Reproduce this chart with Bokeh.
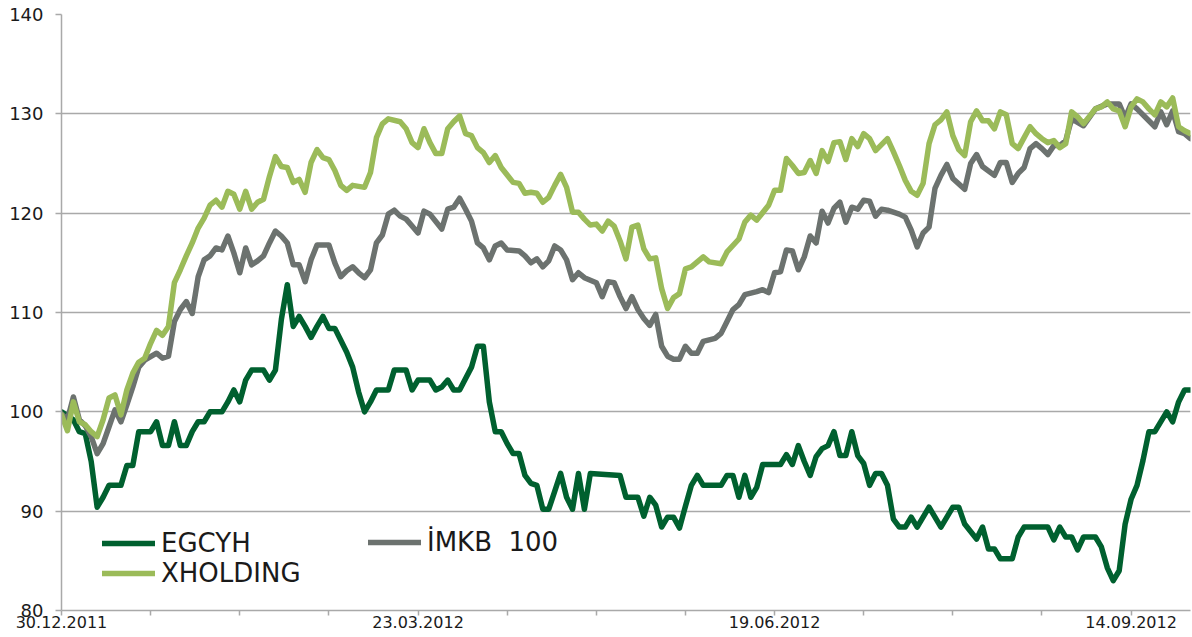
from bokeh.plotting import figure
from bokeh.models import Range1d, FixedTicker, Legend, LegendItem
from bokeh.embed import file_html
from bokeh.resources import INLINE

# ---- axis data ----
date_labels = ["30.12.2011", "23.03.2012", "19.06.2012", "14.09.2012"]
label_days = [0, 60, 120, 180]
tick_days = list(range(0, 181, 15))
y_ticks = [80, 90, 100, 110, 120, 130, 140]
series_names = ["EGCYH", "İMKB  100", "XHOLDING"]

# ---- EGCYH (trading-day index, value) ----
egcyh_day = [0, 2, 3, 4, 5, 6, 7, 8, 10, 11, 12, 13, 15, 16, 17, 18, 19, 20, 21, 22, 23, 24, 25, 27, 28, 29, 30, 31, 32,
             34, 35, 36, 37, 38, 39, 40, 41, 42, 43, 44, 45, 46, 47, 48, 49, 50, 51, 52, 53, 55, 56, 58, 59, 60, 62, 63,
             64, 65, 66, 67, 69, 70, 71, 72, 73, 74, 75, 76, 77, 78, 79, 80, 81, 82, 83, 84, 85, 86, 87, 88, 89, 94, 95,
             97, 98, 99, 100, 101, 102, 103, 104, 105, 106, 107, 108, 111, 112, 113, 114, 115, 116, 117, 118, 121, 122,
             123, 124, 125, 126, 127, 128, 129, 130, 131, 132, 133, 134, 135, 136, 137, 138, 139, 140, 141, 142, 143,
             144, 146, 148, 150, 151, 152, 154, 155, 156, 157, 158, 160, 161, 162, 166, 167, 168, 169, 170, 171, 172,
             174, 175, 176, 177, 178, 179, 180, 181, 182, 183, 184, 186, 187, 188, 189, 190]
egcyh_val = [100, 99.2, 98, 97.8, 95, 90.4, 91.4, 92.6, 92.6, 94.6, 94.6, 98, 98, 99, 96.6, 96.6, 99, 96.6, 96.6, 98,
             99, 99, 100, 100, 101, 102.2, 101, 103.2, 104.2,
             104.2, 103.2, 104.2, 109.3, 112.8, 108.6, 109.6, 108.6, 107.5, 108.6, 109.6, 108.4, 108.4, 107.2, 106,
             104.5, 102, 100, 101, 102.2, 102.2, 104.2, 104.2, 102.2, 103.2, 103.2, 102.2,
             102.5, 103.2, 102.2, 102.2, 104.5, 106.6, 106.6, 101, 98, 98, 96.8, 95.8, 95.8, 93.6, 92.8, 92.6, 90.2,
             90.2, 92, 93.8, 91.4, 90.2, 93.8, 90.2, 93.8, 93.6, 91.4,
             91.4, 89.5, 91.4, 90.6, 88.4, 89.4, 89.4, 88.3, 90.5, 92.6, 93.6, 92.6, 92.6, 93.6, 93.6, 91.4, 93.6,
             91.4, 92.4, 94.7, 94.7, 95.7,
             94.7, 96.6, 95, 93.6, 95.5, 96.3, 96.6, 98, 95.6, 95.6, 98, 95.6, 94.8, 92.6, 93.8, 93.8, 92.6, 89.2,
             88.4, 88.4, 89.4,
             88.4, 90.4, 88.4, 90.4, 90.4, 88.7, 87.2, 88.4, 86.2, 86.2, 85.2, 85.2, 87.4, 88.4, 88.4, 87.1, 88.4,
             87.4, 87.4, 86.1, 87.4,
             87.4, 86.4, 84.3, 83.0, 84, 88.7, 91.2, 92.6, 95.1, 98, 98, 100, 99, 101, 102.2, 102.2]

# ---- IMKB 100 ----
imkb_day = [0, 1, 2, 3, 4, 5, 6, 7, 8, 9, 10, 11, 12, 13, 14, 16, 17, 18, 19, 20, 21, 22, 23, 24, 25, 26, 27, 28, 29,
            30, 31, 32, 33, 34, 35, 36, 37, 38, 39, 40, 41, 42, 43, 45, 46, 47, 48, 49, 50, 51, 52, 53, 54, 55, 56,
            57, 58, 59, 60, 61, 62, 64, 65, 66, 67, 68, 69, 70, 71, 72, 73, 74, 75, 77, 78, 79, 80, 81, 82, 83, 84,
            85, 86, 87, 88, 90, 91, 92, 93, 94, 95, 96, 97, 98, 99, 100, 101, 102, 103, 104, 105, 106, 107, 108, 110,
            111, 112, 113, 114, 115, 117, 118, 119, 120, 121, 122, 123, 124, 125, 126, 127, 128, 129, 130, 131, 132,
            133, 134, 135, 136, 137, 138, 139, 141, 142, 143, 144, 145, 146, 147, 148, 149, 150, 152, 153, 154, 155,
            157, 158, 159, 160, 161, 162, 163, 164, 165, 166, 167, 168, 169, 170, 172, 174, 176, 178, 179, 180, 181,
            183, 184, 185, 186, 187, 188, 189, 190]
imkb_val = [99.8, 99.2, 101.5, 99.2, 98.6, 97.5, 95.8, 96.8, 98.5, 100.2, 99, 100.7, 102.5, 104.5, 105.2, 105.9, 105.4,
            105.6, 109.1, 110.3, 111.1, 109.9, 113.6, 115.3, 115.7, 116.5, 116.3, 117.7, 116,
            114, 116.5, 114.8, 115.2, 115.7, 117, 118.2, 117.7, 117, 114.8, 114.8, 113.1, 115.3, 116.8, 116.8, 115,
            113.6, 114.2, 114.6, 114, 113.5, 114.3, 117, 117.8, 119.9, 120.3,
            119.7, 119.4, 118.7, 118, 120.2, 119.9, 118.4, 120.4, 120.6, 121.5, 120.4, 119.2, 117, 116.5, 115.3,
            116.7, 117, 116.3, 116.2, 115.7, 115, 115.4, 114.6, 115.2, 116.7, 116.3,
            115.3, 113.3, 114, 113.5, 113, 111.6, 113.1, 113, 111.6, 110.4, 111.6, 110.3, 109.4, 108.7, 109.8, 106.6,
            105.6, 105.3, 105.3, 106.6, 105.9, 105.9, 107.1, 107.4,
            107.9, 109.1, 110.3, 110.8, 111.8, 112.1, 112.3, 112, 114, 114.1, 116.3, 116.2, 114.3, 115.6, 117.7, 117,
            120.2, 119, 120.5, 121.1, 119.1,
            120.6, 120.4, 121.3, 121.2, 119.7, 120.4, 120.3, 119.9, 119.6, 118.3, 116.6, 118, 118.6, 122.5, 123.8,
            124.9, 123.5, 122.4, 125, 125.9, 124.7,
            123.8, 125.1, 125.1, 123.1, 124, 124.6, 126.5, 127, 126.5, 125.9, 126.8, 126.8, 127.3, 129.5, 128.8,
            130.5, 131, 131, 129.6, 131, 130.5,
            129.3, 128.7, 130.2, 128.9, 130.3, 128.2, 128, 127.5]

# ---- XHOLDING ----
xhold_day = [0, 1, 2, 3, 4, 5, 6, 7, 8, 9, 10, 11, 12, 13, 14, 15, 16, 17, 18, 19, 20, 21, 22, 23, 24, 25, 26, 27, 28,
             29, 30, 31, 32, 33, 34, 35, 36, 37, 38, 39, 40, 41, 42, 43, 44, 45, 46, 47, 48, 49, 51, 52, 53, 54, 55,
             57, 58, 59, 60, 61, 62, 63, 64, 65, 66, 67, 68, 69, 70, 71, 72, 73, 74, 76, 77, 78, 79, 80, 81, 82, 83,
             84, 85, 86, 87, 88, 89, 90, 91, 92, 93, 94, 95, 96, 97, 98, 99, 100, 101, 102, 103, 104, 105, 106, 108,
             109, 111, 112, 114, 115, 116, 117, 119, 120, 121, 122, 123, 124, 125, 126, 127, 128, 129, 130, 131, 132,
             133, 134, 135, 136, 137, 138, 139, 140, 141, 142, 143, 144, 145, 146, 147, 148, 149, 150, 151, 152, 153,
             154, 155, 156, 157, 158, 159, 160, 161, 162, 163, 164, 165, 166, 167, 168, 169, 170, 171, 172, 174, 175,
             176, 177, 178, 179, 180, 181, 182, 183, 184, 185, 186, 187, 188, 189, 190]
xhold_val = [99.7, 98.1, 101, 99, 98.7, 98, 97.5, 99.2, 101.4, 101.7, 99.7, 102.2, 103.9, 105, 105.4, 106.9, 108.2,
             107.7, 108.6, 113, 114.3, 115.7, 117, 118.5, 119.5, 120.8, 121.3, 120.6, 122.2,
             121.9, 120.4, 122.2, 120.4, 121.1, 121.4, 123.7, 125.7, 124.7, 124.6, 123.1, 123.4, 122.1, 125.1, 126.4,
             125.6, 125.4, 124.3, 122.8, 122.3, 122.8, 122.6, 124.1, 127.6, 129, 129.5,
             129.2, 128.5, 127.1, 126.6, 128.5, 127.1, 126, 126, 128.5, 129.2, 129.8, 128, 127.8, 126.6, 126.1, 125.1,
             125.8, 124.6, 123.1, 123, 122, 122.1, 122, 121.1, 121.6, 122.8,
             123.9, 122.6, 120.1, 120.1, 119.4, 118.8, 118.9, 118.2, 119.2, 118.7, 117.2, 115.4, 118.6, 118.8, 116.4,
             115.4, 115.5, 112.4, 110.4, 111.5, 111.9, 114.4, 114.6, 115.6,
             115.1, 114.9, 116.1, 117.4, 119.1, 119.8, 119.3, 120.8, 122.3, 122.3, 125.5, 124.8, 124, 124.1, 125.3,
             124, 126.3, 125.2, 127.1, 127.2, 125.4,
             127.5, 126.7, 128, 127.5, 126.3, 126.9, 127.5, 126.2, 124.8, 123.3, 122.2, 121.8, 123, 127, 128.9, 129.4,
             130.2, 127.8, 126.4, 125.8, 129.2,
             130.3, 129.3, 129.3, 128.5, 130.2, 129.9, 127, 126.5, 127.6, 128.7, 128, 127.5, 127.1, 127.3, 126.6, 127,
             130.2, 129.7, 129, 130.5, 130.7,
             131.2, 130.5, 130.3, 128.7, 130.7, 131.5, 131.2, 130.5, 129.9, 131.2, 130.7, 131.6, 128.7, 128.3, 128]

DARK_GREEN = "#00602F"
GRAY = "#6C726F"
LIGHT_GREEN = "#9BBB59"
AXIS_GRAY = "#A9A9A9"
FONT = "DejaVu Sans"

p = figure(width=1192, height=637, output_backend="svg", toolbar_location=None,
           x_range=Range1d(0, 190), y_range=Range1d(80, 140),
           min_border_left=61, min_border_right=2, min_border_top=14, min_border_bottom=27)
p.outline_line_color = None
p.background_fill_color = "white"
p.border_fill_color = "white"

p.xgrid.grid_line_color = None
p.ygrid.grid_line_color = AXIS_GRAY
p.ygrid.grid_line_width = 1.5

p.yaxis.ticker = FixedTicker(ticks=y_ticks)
p.yaxis.axis_line_color = AXIS_GRAY
p.yaxis.axis_line_width = 1.5
p.yaxis.major_tick_line_color = AXIS_GRAY
p.yaxis.major_tick_line_width = 1.5
p.yaxis.major_tick_out = 6
p.yaxis.major_tick_in = 0
p.yaxis.minor_tick_line_color = None
p.yaxis.major_label_standoff = 12
p.yaxis.major_label_text_font = FONT
p.yaxis.major_label_text_font_size = "18px"
p.yaxis.major_label_text_color = "#1a1a1a"

p.xaxis.ticker = FixedTicker(ticks=tick_days)
overrides = {d: "" for d in tick_days}
for d, lab in zip(label_days, date_labels):
    overrides[d] = lab
p.xaxis.major_label_overrides = overrides
p.xaxis.axis_line_color = AXIS_GRAY
p.xaxis.axis_line_width = 1.5
p.xaxis.major_tick_line_color = AXIS_GRAY
p.xaxis.major_tick_line_width = 1.5
p.xaxis.major_tick_out = 5
p.xaxis.major_tick_in = 0
p.xaxis.minor_tick_line_color = None
p.xaxis.major_label_standoff = 0
p.xaxis.major_label_text_font = FONT
p.xaxis.major_label_text_font_size = "16px"
p.xaxis.major_label_text_color = "#1a1a1a"

LW = 5.5
r1 = p.line(egcyh_day, egcyh_val, line_width=LW, line_color=DARK_GREEN, line_join="round", line_cap="round")
r2 = p.line(imkb_day, imkb_val, line_width=LW, line_color=GRAY, line_join="round", line_cap="round")
r3 = p.line(xhold_day, xhold_val, line_width=LW, line_color=LIGHT_GREEN, line_join="round", line_cap="round")


def style(leg):
    leg.border_line_color = None
    leg.background_fill_alpha = 0
    leg.padding = 0
    leg.margin = 0
    leg.spacing = -1
    leg.glyph_width = 53
    leg.glyph_height = 26
    leg.label_height = 26
    leg.label_standoff = 6
    leg.label_text_font = FONT
    leg.label_text_font_size = "26px"
    leg.label_text_color = "#1a1a1a"
    leg.label_text_baseline = "middle"


leg1 = Legend(items=[LegendItem(label=series_names[0], renderers=[r1]),
                     LegendItem(label=series_names[2], renderers=[r3])],
              location=(41, 22))
leg2 = Legend(items=[LegendItem(label=series_names[1], renderers=[r2])],
              location=(307, 53))
style(leg1)
style(leg2)
p.add_layout(leg1)
p.add_layout(leg2)

open("out.html", "w").write(file_html(p, INLINE))
